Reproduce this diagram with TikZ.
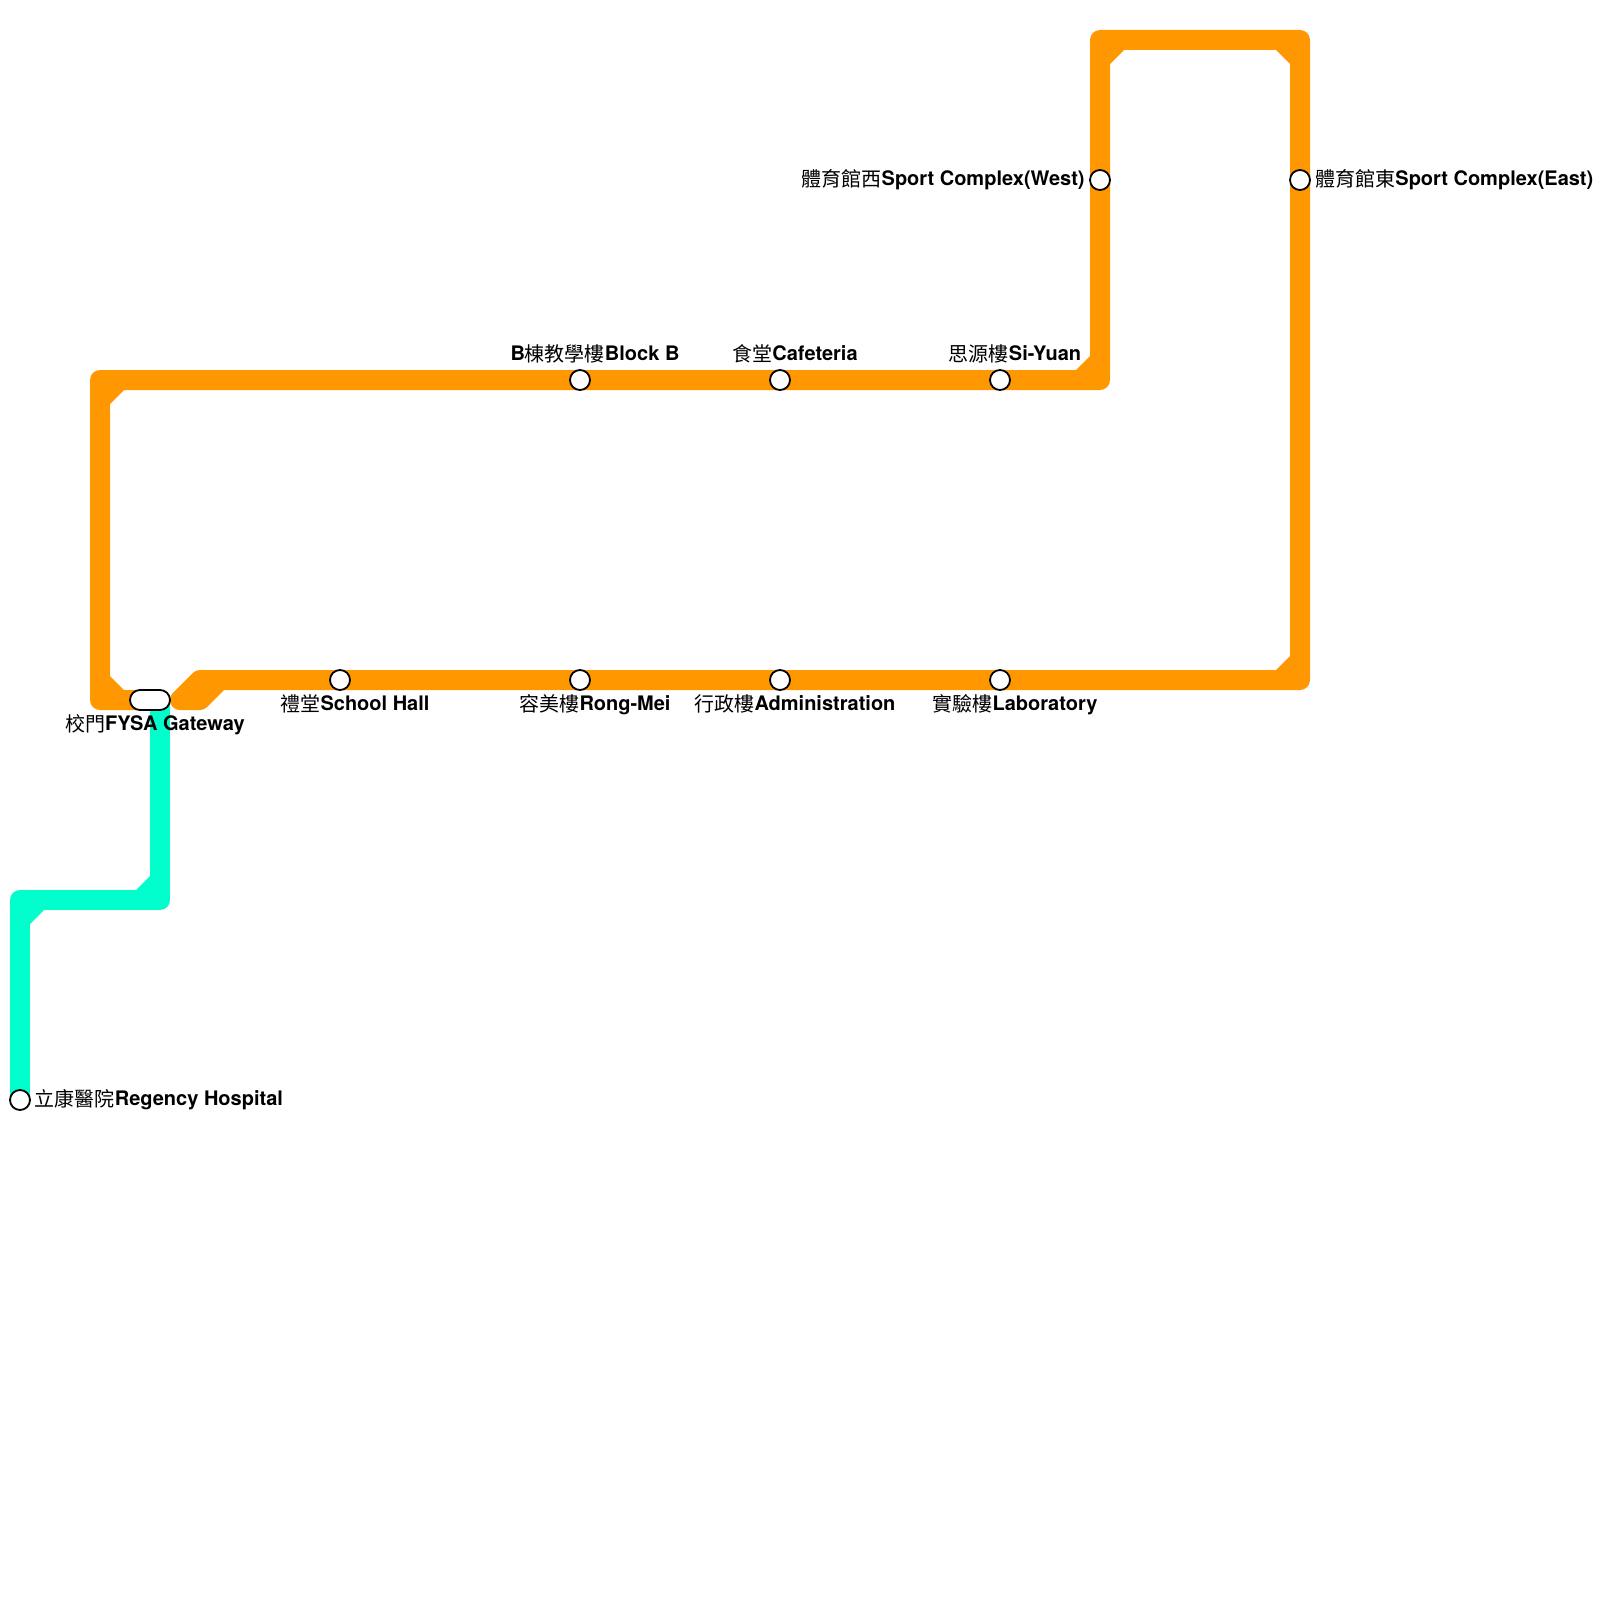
\documentclass[tikz,border=0pt]{standalone}
\usepackage{fontspec}
\setmainfont{TeX Gyre Heros}
\newfontfamily\cjk{Noto Sans CJK TC}
\definecolor{lineorange}{HTML}{FF9800}
\definecolor{lineteal}{HTML}{00FFCC}
\newcommand{\cjktext}[1]{\raisebox{-0.5pt}{\cjk #1}}
\newcommand{\lbl}[2]{\cjktext{#1}\textbf{#2}}
\tikzset{
  x=0.5pt,y=-0.5pt,
  metro/.style={line width=10pt,line join=round,line cap=butt},
  orangeline/.style={metro,draw=lineorange},
  tealline/.style={metro,draw=lineteal},
  stn/.style={circle,draw=black,fill=white,line width=0.9pt,minimum size=10pt,inner sep=0pt},
  gate/.style={rectangle,rounded corners=5pt,draw=black,fill=white,line width=0.9pt,minimum width=20pt,minimum height=10pt,inner sep=0pt},
  lab/.style={inner sep=0pt,font=\fontsize{10pt}{12pt}\selectfont,text=black},
}
\begin{document}
\begin{tikzpicture}
\useasboundingbox[fill=white] (0,0) rectangle (1600,1600);
% line corners
\coordinate (o1) at (150,700);
\coordinate (o2) at (100,700);
\coordinate (o3) at (100,380);
\coordinate (o4) at (1100,380);
\coordinate (o5) at (1100,40);
\coordinate (o6) at (1300,40);
\coordinate (o7) at (1300,680);
\coordinate (o8) at (220,680);
\coordinate (o9) at (200,700);
\coordinate (o10) at (180,700);
\coordinate (o11) at (200,680);
\coordinate (t1) at (160,700);
\coordinate (t2) at (160,900);
\coordinate (t3) at (20,900);
\coordinate (t4) at (20,1100);
% teal line
\draw[tealline] (t1) -- (t2) -- (t3) -- (t4);
\fill[lineteal] (150,890) -- (136,890) -- (150,876) -- cycle;
\fill[lineteal] (30,910) -- (30,924) -- (44,910) -- cycle;
% orange line
\draw[orangeline] (o1) -- (o2) -- (o3) -- (o4) -- (o5) -- (o6) -- (o7) -- (o8) -- (o9) -- (o10) -- (o11) -- (o8);
\fill[lineorange] (110,690) -- (110,676) -- (124,690) -- cycle;
\fill[lineorange] (110,390) -- (110,404) -- (124,390) -- cycle;
\fill[lineorange] (1090,370) -- (1076,370) -- (1090,356) -- cycle;
\fill[lineorange] (1110,50) -- (1110,64) -- (1124,50) -- cycle;
\fill[lineorange] (1290,50) -- (1276,50) -- (1290,64) -- cycle;
\fill[lineorange] (1290,670) -- (1276,670) -- (1290,656) -- cycle;
% stations
\node[stn] (regency) at (t4) {};
\node[gate] (gateway) at (150,700) {};
\node[stn] (hall) at (340,680) {};
\node[stn] (rong) at (580,680) {};
\node[stn] (admin) at (780,680) {};
\node[stn] (labo) at (1000,680) {};
\node[stn] (blockb) at (580,380) {};
\node[stn] (cafe) at (780,380) {};
\node[stn] (siyuan) at (1000,380) {};
\node[stn] (west) at (1100,180) {};
\node[stn] (east) at (1300,180) {};
% labels
\node[lab,anchor=base] (lgate) at (155,730) {\lbl{校門}{FYSA Gateway}};
\node[lab,anchor=base] (lhall) at (355,710) {\lbl{禮堂}{School Hall}};
\node[lab,anchor=base] (lrong) at (595,710) {\lbl{容美樓}{Rong-Mei}};
\node[lab,anchor=base] (ladmin) at (795,710) {\lbl{行政樓}{Administration}};
\node[lab,anchor=base] (llabo) at (1015,710) {\lbl{實驗樓}{Laboratory}};
\node[lab,anchor=base] (lblockb) at (595,360) {\textbf{B}\cjktext{棟教學樓}\textbf{Block B}};
\node[lab,anchor=base] (lcafe) at (795,360) {\lbl{食堂}{Cafeteria}};
\node[lab,anchor=base] (lsiyuan) at (1015,360) {\lbl{思源樓}{Si-Yuan}};
\node[lab,anchor=base east] (lwest) at (1085,185) {\lbl{體育館西}{Sport Complex(West)}};
\node[lab,anchor=base west] (least) at (1315,185) {\lbl{體育館東}{Sport Complex(East)}};
\node[lab,anchor=base west] (lregency) at (34.5,1105) {\lbl{立康醫院}{Regency Hospital}};
\end{tikzpicture}
\end{document}
